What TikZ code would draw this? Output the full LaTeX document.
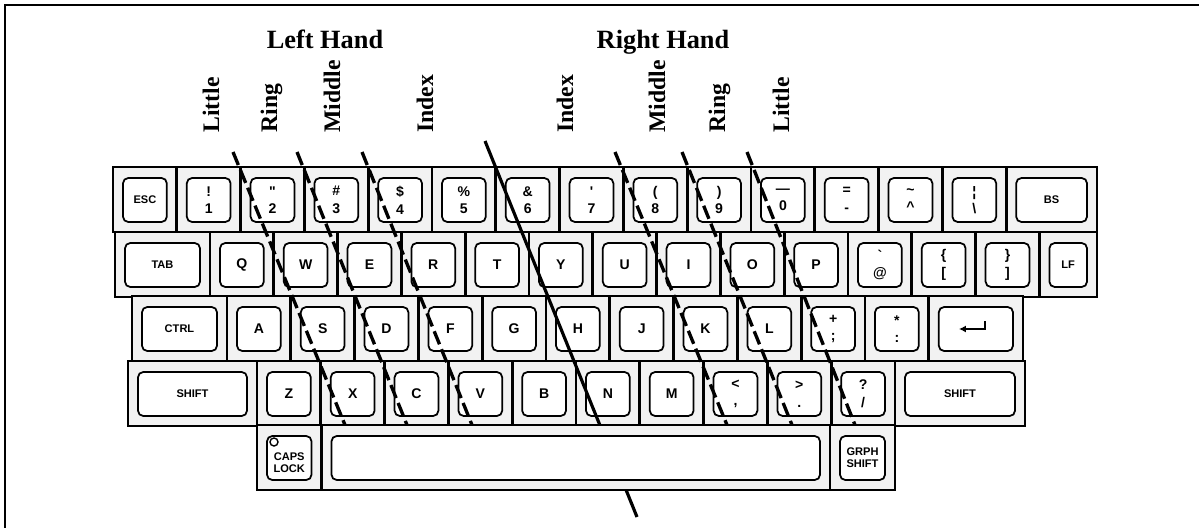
\documentclass[tikz,border=0pt]{standalone}
\usepackage{fontspec}
\setmainfont{Liberation Serif}
\setsansfont{Liberation Sans}
\usetikzlibrary{arrows.meta}

\tikzset{
    keycell/.style={line width=1.6pt, fill=gray!10},
    keycap/.style={line width=1pt, fill=white, rounded corners=3pt},
    keychar/.style={font=\sffamily\bfseries\fontsize{8}{10}\selectfont, align=center, inner sep=0pt},
    keyword/.style={font=\sffamily\bfseries\fontsize{6.3}{7}\selectfont, align=center, inner sep=0pt},
    finger/.style={line width=1.9pt, dash pattern=on 8pt off 3pt},
    divide/.style={line width=1.8pt},
    handname/.style={font=\bfseries\fontsize{15}{18}\selectfont, anchor=base, inner sep=0pt},
    fingername/.style={font=\bfseries\fontsize{13.5}{16}\selectfont, rotate=90, anchor=base west, inner sep=0pt}
}

\newcommand{\kbkey}[6]{%
    \draw[keycell] (#2,#3) rectangle ++(#4,65);
    \draw[keycap] (#2+10,#3+11) rectangle ++(#4-20,44);
    \node[#5] (#1) at (#2+#4/2,#3+33) {#6};
}

\begin{document}
\begin{tikzpicture}[x=0.02cm,y=-0.02cm]
    \useasboundingbox (0,0) rectangle (1199,527);
    \draw[line width=1.3pt] (5,5) rectangle (1210,540);

    \node[handname] (lefthand) at (325,49) {Left Hand};
    \node[handname] (righthand) at (663,49) {Right Hand};
    \node[fingername] (lhlittle) at (219,133) {Little};
    \node[fingername] (lhring) at (277,133) {Ring};
    \node[fingername] (lhmiddle) at (340,133) {Middle};
    \node[fingername] (lhindex) at (433,133) {Index};
    \node[fingername] (rhindex) at (573,133) {Index};
    \node[fingername] (rhmiddle) at (665,133) {Middle};
    \node[fingername] (rhring) at (725,133) {Ring};
    \node[fingername] (rhlittle) at (789,133) {Little};

    \kbkey{esc}{113}{167}{63.8}{keyword}{ESC}
    \kbkey{one}{176.8}{167}{63.8}{keychar}{!\\1}
    \kbkey{two}{240.6}{167}{63.8}{keychar}{\textquotedbl\\2}
    \kbkey{three}{304.4}{167}{63.8}{keychar}{\#\\3}
    \kbkey{four}{368.2}{167}{63.8}{keychar}{\$\\4}
    \kbkey{five}{432}{167}{63.8}{keychar}{\%\\5}
    \kbkey{six}{495.8}{167}{63.8}{keychar}{\&\\6}
    \kbkey{seven}{559.6}{167}{63.8}{keychar}{\textquotesingle\\7}
    \kbkey{eight}{623.4}{167}{63.8}{keychar}{(\\8}
    \kbkey{nine}{687.2}{167}{63.8}{keychar}{)\\9}
    \kbkey{zero}{751}{167}{63.8}{keychar}{\textemdash\\0}
    \kbkey{minus}{814.8}{167}{63.8}{keychar}{=\\-}
    \kbkey{caret}{878.6}{167}{63.8}{keychar}{\textasciitilde\\\textasciicircum}
    \kbkey{bslash}{942.4}{167}{63.8}{keychar}{¦\\\textbackslash}
    \kbkey{bs}{1006.2}{167}{90.8}{keyword}{BS}

    \kbkey{tab}{115}{232}{95}{keyword}{TAB}
    \kbkey{q}{210}{232}{63.8}{keychar}{Q}
    \kbkey{w}{273.8}{232}{63.8}{keychar}{W}
    \kbkey{e}{337.6}{232}{63.8}{keychar}{E}
    \kbkey{r}{401.4}{232}{63.8}{keychar}{R}
    \kbkey{t}{465.2}{232}{63.8}{keychar}{T}
    \kbkey{y}{529}{232}{63.8}{keychar}{Y}
    \kbkey{u}{592.8}{232}{63.8}{keychar}{U}
    \kbkey{i}{656.6}{232}{63.8}{keychar}{I}
    \kbkey{o}{720.4}{232}{63.8}{keychar}{O}
    \kbkey{p}{784.2}{232}{63.8}{keychar}{P}
    \kbkey{at}{848}{232}{63.8}{keychar}{\textasciigrave\\@}
    \kbkey{lbrack}{911.8}{232}{63.8}{keychar}{\{\\{[}}
    \kbkey{rbrack}{975.6}{232}{63.8}{keychar}{\}\\{]}}
    \kbkey{lf}{1039.4}{232}{57.6}{keyword}{LF}

    \kbkey{ctrl}{132}{296}{95}{keyword}{CTRL}
    \kbkey{a}{227}{296}{63.8}{keychar}{A}
    \kbkey{s}{290.8}{296}{63.8}{keychar}{S}
    \kbkey{d}{354.6}{296}{63.8}{keychar}{D}
    \kbkey{f}{418.4}{296}{63.8}{keychar}{F}
    \kbkey{g}{482.2}{296}{63.8}{keychar}{G}
    \kbkey{h}{546}{296}{63.8}{keychar}{H}
    \kbkey{j}{609.8}{296}{63.8}{keychar}{J}
    \kbkey{k}{673.6}{296}{63.8}{keychar}{K}
    \kbkey{l}{737.4}{296}{63.8}{keychar}{L}
    \kbkey{semi}{801.2}{296}{63.8}{keychar}{+\\;}
    \kbkey{colon}{865}{296}{63.8}{keychar}{*\\:}
    \kbkey{enter}{928.8}{296}{94.2}{keyword}{}
    \draw[line width=1.3pt, -{Latex[length=4pt,width=4pt]}] ([shift={(9,-8)}]enter.center) -- ([shift={(9,0)}]enter.center) -- ([shift={(-17,0)}]enter.center);

    \kbkey{lshift}{128}{361}{129}{keyword}{SHIFT}
    \kbkey{z}{257}{361}{63.8}{keychar}{Z}
    \kbkey{x}{320.8}{361}{63.8}{keychar}{X}
    \kbkey{c}{384.6}{361}{63.8}{keychar}{C}
    \kbkey{v}{448.4}{361}{63.8}{keychar}{V}
    \kbkey{b}{512.2}{361}{63.8}{keychar}{B}
    \kbkey{n}{576}{361}{63.8}{keychar}{N}
    \kbkey{m}{639.8}{361}{63.8}{keychar}{M}
    \kbkey{comma}{703.6}{361}{63.8}{keychar}{<\\,}
    \kbkey{period}{767.4}{361}{63.8}{keychar}{>\\.}
    \kbkey{slash}{831.2}{361}{63.8}{keychar}{?\\/}
    \kbkey{rshift}{895}{361}{130}{keyword}{SHIFT}

    \coordinate (lt1) at (233,152); \coordinate (lb1) at (345,425);
    \coordinate (lt2) at (297,152); \coordinate (lb2) at (407,425);
    \coordinate (lt3) at (362,152); \coordinate (lb3) at (472,425);
    \coordinate (rt1) at (615,152); \coordinate (rb1) at (727,425);
    \coordinate (rt2) at (682,152); \coordinate (rb2) at (792,425);
    \coordinate (rt3) at (747,152); \coordinate (rb3) at (855,425);
    \coordinate (midtop) at (485,141); \coordinate (midbot) at (637,517);
    \draw[finger] (lt1) -- (lb1);
    \draw[finger] (lt2) -- (lb2);
    \draw[finger] (lt3) -- (lb3);
    \draw[finger] (rt1) -- (rb1);
    \draw[finger] (rt2) -- (rb2);
    \draw[finger] (rt3) -- (rb3);
    \draw[divide] (midtop) -- (midbot);

    \kbkey{caps}{257}{425}{64.5}{keyword, yshift=-0.1cm}{CAPS\\LOCK}
    \draw[line width=0.8pt, fill=white] (274,442) circle [radius=0.08cm];
    \kbkey{space}{321.5}{425}{508.5}{keyword}{}
    \kbkey{grph}{830}{425}{65}{keyword}{GRPH\\SHIFT}
\end{tikzpicture}
\end{document}
